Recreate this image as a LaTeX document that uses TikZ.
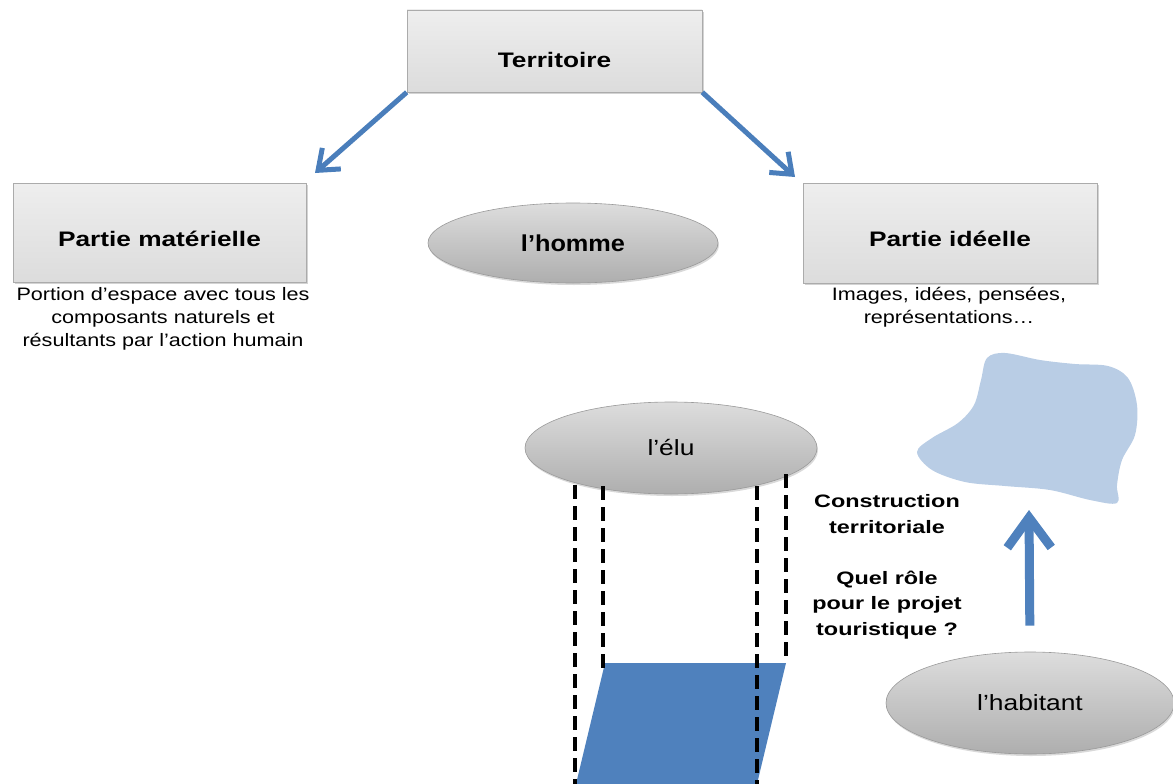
\documentclass[tikz,border=0pt]{standalone}
\usepackage{fontspec}
\setmainfont{Liberation Sans}
\usetikzlibrary{arrows.meta,shapes.geometric,shadows}
\definecolor{boxtop}{HTML}{EEEEEE}
\definecolor{boxbot}{HTML}{DCDCDC}
\definecolor{boxline}{HTML}{ABABAB}
\definecolor{elltop}{HTML}{DDDDDD}
\definecolor{ellmid}{HTML}{C6C6C6}
\definecolor{ellbot}{HTML}{AEAEAE}
\definecolor{ellline}{HTML}{9A9A9A}
\definecolor{arrowblue}{HTML}{4A7EBB}
\definecolor{deepblue}{HTML}{4F81BD}
\definecolor{paleblue}{HTML}{B9CDE5}
% horizontally widened text
\newcommand\hstretch[2][1.25]{\scalebox{#1}[1]{#2}}

\begin{document}
\begin{tikzpicture}[x=1pt,y=-1pt,
  titlebox/.style={rectangle, draw=boxline, line width=0.6pt,
    top color=boxtop, bottom color=boxbot,
    drop shadow={shadow xshift=1.5pt, shadow yshift=-2pt, opacity=0.35},
    inner sep=0pt, font=\fontsize{21}{25}\selectfont\bfseries},
  actor/.style={ellipse, draw=ellline, line width=0.6pt,
    top color=elltop, middle color=ellmid, bottom color=ellbot,
    drop shadow={shadow xshift=1pt, shadow yshift=-2pt, opacity=0.3},
    inner sep=0pt},
  desc/.style={align=center, inner sep=0pt,
    font=\fontsize{18}{23}\selectfont},
  question/.style={align=center, inner sep=0pt,
    font=\fontsize{18}{25.5}\selectfont\bfseries},
  toparrow/.style={draw=arrowblue, line width=5pt,
    -{Straight Barb[length=18pt, width=28pt]}},
  uparrow/.style={draw=deepblue, line width=9pt,
    -{Straight Barb[length=30pt, width=44pt]}},
  limit/.style={draw=black, line width=3.8pt, dash pattern=on 14pt off 7pt}]

\useasboundingbox (0,0) rectangle (1173,784);

% --- top row: territory and its two parts
\node[titlebox, minimum width=295pt, minimum height=82pt,
      text height=34pt, text depth=0pt] (ter) at (554.5,51)
  {\hstretch{Territoire}};
\node[titlebox, minimum width=293pt, minimum height=99pt,
      text height=27pt, text depth=0pt] (mat) at (159.5,232.5)
  {\hstretch{Partie matérielle}};
\node[titlebox, minimum width=294pt, minimum height=100pt,
      text height=27pt, text depth=0pt] (ide) at (950,233)
  {\hstretch{Partie idéelle}};

\coordinate (matTip) at (315,173);
\coordinate (ideTip) at (795,177);
\draw[toparrow] (ter.south west) -- (matTip);
\draw[toparrow] (ter.south east) -- (ideTip);

\node[actor, minimum width=290pt, minimum height=80pt,
      font=\fontsize{23}{27}\selectfont\bfseries] (homme) at (573,243)
  {\hstretch[1.1]{l’homme}};

\node[desc] (matdesc) at (163,319)
  {\hstretch[1.2]{Portion d’espace avec tous les}\\
   \hstretch[1.2]{composants naturels et}\\
   \hstretch[1.2]{résultants par l’action humain}};
\node[desc] (idedesc) at (949,307)
  {\hstretch[1.2]{Images, idées, pensées,}\\
   \hstretch[1.2]{représentations…}};

% --- territorial construction
\fill[paleblue] plot[smooth cycle, tension=0.55] coordinates {
  (987,358) (1005,353) (1040,360) (1075,364) (1108,366) (1128,378)
  (1137,405) (1135,435) (1122,460) (1117,485) (1117,503) (1090,500)
  (1050,490) (1005,486) (965,482) (932,470) (917,452) (932,438)
  (958,423) (974,405) (981,380)};

\fill[deepblue] (605,663) -- (786,663) -- (757,784) -- (576,784) -- cycle;

\node[actor, minimum width=292pt, minimum height=92pt,
      font=\fontsize{22}{26}\selectfont] (elu) at (671,448)
  {\hstretch[1.2]{l’élu}};

\draw[limit] (575,485) -- (575,784);
\draw[limit] (603,486) -- (603,668);
\draw[limit] (757,486) -- (757,784);
\draw[limit] (786,474) -- (786,663);

\node[question] (constr) at (887,514)
  {\hstretch[1.3]{Construction}\\ \hstretch[1.3]{territoriale}};
\node[question] (role) at (887,605)
  {\hstretch[1.3]{Quel rôle}\\ \hstretch[1.3]{pour le projet}\\
   \hstretch[1.3]{touristique ?}};

\node[actor, minimum width=288pt, minimum height=102pt,
      font=\fontsize{22}{26}\selectfont] (hab) at (1030,703)
  {\hstretch[1.2]{l’habitant}};

\coordinate (blobTip) at (1029,510);
\draw[uparrow, shorten <=26pt] (hab.north) -- (blobTip);
\end{tikzpicture}
\end{document}
